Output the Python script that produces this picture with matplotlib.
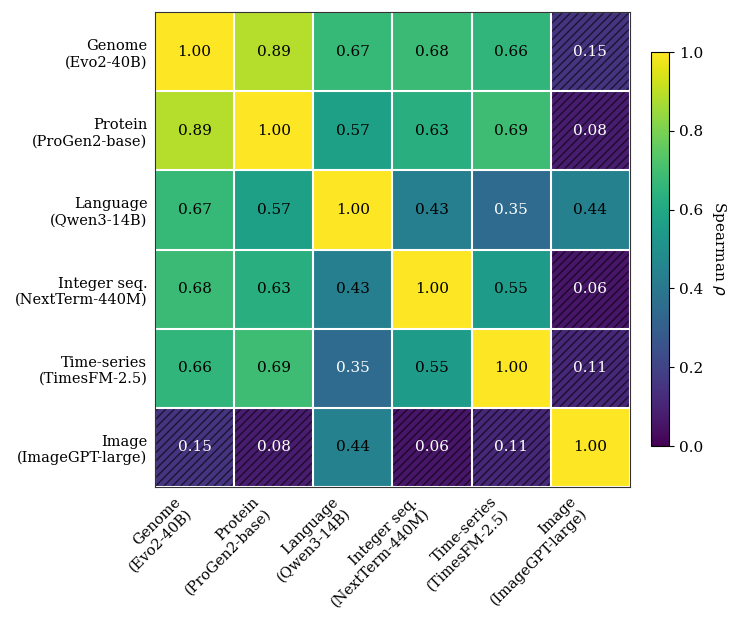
import numpy as np
import matplotlib.pyplot as plt
from matplotlib.patches import Rectangle

plt.rcParams['font.family'] = ['DejaVu Serif']

labels = ["Genome\n(Evo2-40B)", "Protein\n(ProGen2-base)", "Language\n(Qwen3-14B)",
          "Integer seq.\n(NextTerm-440M)", "Time-series\n(TimesFM-2.5)", "Image\n(ImageGPT-large)"]

rho = np.array([
    [1.00, 0.89, 0.67, 0.68, 0.66, 0.15],
    [0.89, 1.00, 0.57, 0.63, 0.69, 0.08],
    [0.67, 0.57, 1.00, 0.43, 0.35, 0.44],
    [0.68, 0.63, 0.43, 1.00, 0.55, 0.06],
    [0.66, 0.69, 0.35, 0.55, 1.00, 0.11],
    [0.15, 0.08, 0.44, 0.06, 0.11, 1.00],
])

fig = plt.figure(figsize=(7.41, 6.2), dpi=100)
ax = fig.add_axes([155 / 741, 1 - 487 / 620, 475 / 741, 475 / 620])
cax = fig.add_axes([651 / 741, 1 - 446 / 620, 18 / 741, 394 / 620])

im = ax.imshow(rho, cmap="viridis", vmin=0, vmax=1, aspect="auto")

n = len(labels)
for i in range(n):
    for j in range(n):
        v = rho[i, j]
        if v < 0.2:
            ax.add_patch(Rectangle((j - 0.5, i - 0.5), 1, 1, fill=False, hatch="////",
                                   edgecolor=(0, 0, 0, 0.6), linewidth=0))
        color = "white" if v < 0.4 else "black"
        ax.text(j, i, f"{v:.2f}", ha="center", va="center", color=color, fontsize=11)

ax.set_xticks(np.arange(n))
ax.set_yticks(np.arange(n))
ax.set_xticklabels(labels, rotation=45, ha="right", fontsize=10.5)
ax.set_yticklabels(labels, fontsize=10.5)
ax.set_xticks(np.arange(-0.5, n, 1), minor=True)
ax.set_yticks(np.arange(-0.5, n, 1), minor=True)
ax.grid(which="minor", color="white", linewidth=1.5)
ax.tick_params(which="minor", length=0)
ax.tick_params(which="major", length=0, pad=5.5)
for s in ax.spines.values():
    s.set_color("#333333")

cb = fig.colorbar(im, cax=cax)
cb.set_label(r"Spearman $\rho$", rotation=270, labelpad=18, fontsize=11)
cb.ax.tick_params(labelsize=11)

fig.savefig("out.png", dpi=100)
